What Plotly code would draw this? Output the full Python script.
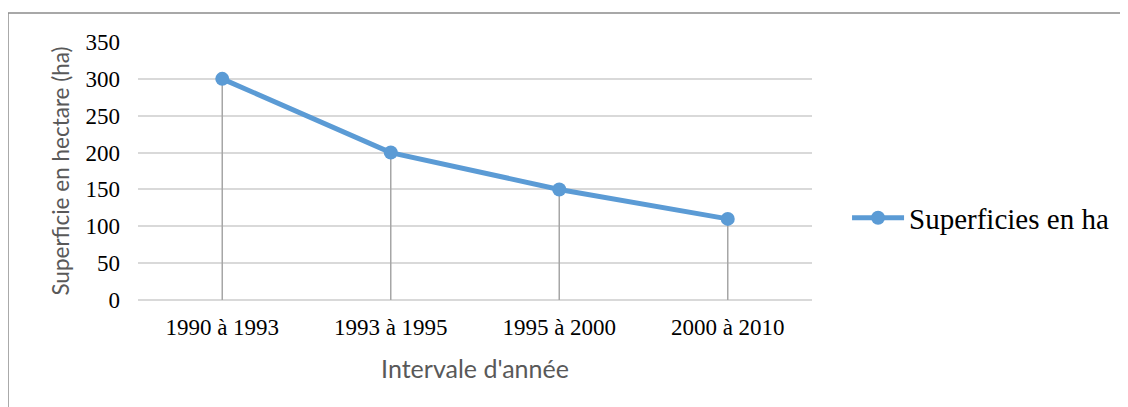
import plotly.graph_objects as go

categories = ["1990 à 1993", "1993 à 1995", "1995 à 2000", "2000 à 2010"]
superficies = [300, 200, 150, 110]
series_name = "Superficies en ha"
y_ticks = [0, 50, 100, 150, 200, 250, 300, 350]

fig = go.Figure()
fig.add_trace(go.Scatter(
    x=categories, y=superficies, name=series_name,
    mode="lines+markers",
    line=dict(color="#5b9bd5", width=5),
    marker=dict(color="#5b9bd5", size=14),
    error_y=dict(type="data", symmetric=False, array=[0]*len(superficies),
                 arrayminus=superficies, color="#a6a6a6", thickness=1.5, width=0),
    showlegend=True,
))

fig.update_layout(
    width=1128, height=407,
    margin=dict(l=130, r=324, t=34, b=115),
    paper_bgcolor="white", plot_bgcolor="white",
    font=dict(family="Liberation Serif", color="black"),
    xaxis=dict(
        range=[-0.5, 3.5],
        tickfont=dict(family="Liberation Serif", size=23, color="black"),
        showgrid=False, showline=False, zeroline=False, ticks="",
        ticklabelstandoff=11,
        title=dict(text="Intervale d'année", font=dict(family="Lato", size=25, color="#595959"), standoff=21),
    ),
    yaxis=dict(
        range=[0, 350], tickvals=y_ticks,
        tickfont=dict(family="Liberation Serif", size=23, color="black"),
        showgrid=True, gridcolor="#d9d9d9", gridwidth=1.5,
        zeroline=True, zerolinecolor="#d9d9d9", zerolinewidth=1.5,
        showline=False, ticks="", ticklabelstandoff=17,
        title=dict(text="Superficie en hectare (ha)", font=dict(family="Lato", size=22.5, color="#595959"), standoff=9),
    ),
    legend=dict(
        x=1.052, y=0.318, xanchor="left", yanchor="middle",
        font=dict(family="Liberation Serif", size=29, color="black"),
        itemwidth=52, bgcolor="rgba(0,0,0,0)",
    ),
    shapes=[dict(type="rect", xref="paper", yref="paper", layer="below",
                 x0=-0.1929, x1=1.6, y0=-0.6, y1=1.1124,
                 line=dict(color="#8c8c8c", width=1.5), fillcolor="rgba(0,0,0,0)")],
)

fig.write_html("out.html")
